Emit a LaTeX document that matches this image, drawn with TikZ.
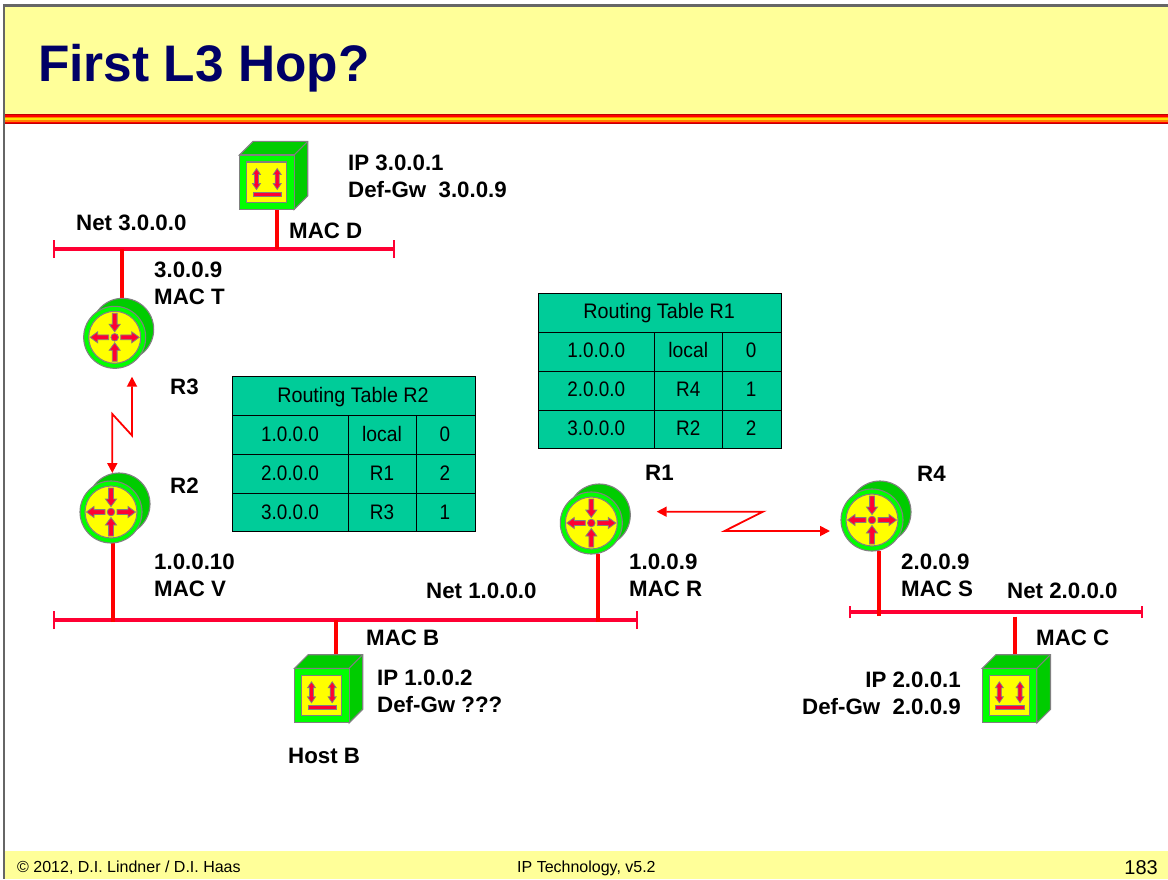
\documentclass[tikz,border=0pt]{standalone}
\usepackage{fontspec}
\usepackage{graphicx}
\setmainfont{Liberation Sans}
\usetikzlibrary{arrows.meta}
\definecolor{paleY}{HTML}{FFFF99}
\definecolor{navyT}{HTML}{000066}
\definecolor{netR}{HTML}{FF0033}
\definecolor{tealT}{HTML}{00CC99}
\definecolor{grn}{HTML}{00FF00}
\definecolor{dgrn}{HTML}{00CC00}
\definecolor{edgeG}{HTML}{808080}
\definecolor{frameG}{HTML}{666666}
\definecolor{icoR}{HTML}{FF0033}
\definecolor{yel}{HTML}{FFFF00}
\tikzset{
  lab/.style={font=\fontsize{22.3}{27}\selectfont\bfseries,align=left,anchor=north west,inner sep=0pt,text=black},
  net/.style={draw=netR,line width=3.2pt},
  stub/.style={draw=red,line width=4.5pt},
  netend/.style={draw=netR,line width=2.6pt},
  wan/.style={draw=red,line width=1.8pt,{Triangle[length=10pt,width=10pt]}-{Triangle[length=10pt,width=10pt]},line join=miter},
  ttext/.style={font=\fontsize{21}{21}\selectfont,inner sep=0pt,anchor=base},
  foot/.style={font=\fontsize{16}{18}\selectfont,inner sep=0pt,text=black},
  iconedge/.style={draw=edgeG,line width=1.1pt}
}
\newcommand{\nrw}[2][0.9]{\scalebox{#1}[1]{#2}}
\newcommand{\routerpic}[3]{%
  \begin{scope}[shift={(#2,#3)}]
    \fill[dgrn,iconedge] (8,-8) circle[radius=31];
    \fill[grn,iconedge] (0,0) circle[radius=31];
    \fill[yel,iconedge] (0,0) circle[radius=26];
    \foreach \a in {0,180}{
      \begin{scope}[rotate=\a]
        \fill[icoR,iconedge,line width=0.8pt] (6,-2.4) -- (17,-2.4) -- (17,-5.5) -- (24.5,0) -- (17,5.5) -- (17,2.4) -- (6,2.4) -- cycle;
      \end{scope}
    }
    \foreach \a in {90,270}{
      \begin{scope}[rotate=\a]
        \fill[icoR,iconedge,line width=0.8pt] (24,-2.4) -- (13,-2.4) -- (13,-5.5) -- (5.5,0) -- (13,5.5) -- (13,2.4) -- (24,2.4) -- cycle;
      \end{scope}
    }
    \fill[icoR,iconedge,line width=0.8pt] (0,0) circle[radius=3.8];
    \node (#1) at (0,0) [inner sep=0pt,minimum size=62pt,circle] {};
  \end{scope}}
\newcommand{\hostpic}[3]{%
  \begin{scope}[shift={(#2,#3)}]
    \fill[dgrn,iconedge] (0,0) -- (13.6,-13.6) -- (68.2,-13.6) -- (68.2,41) -- (54.6,54.6) -- (54.6,0) -- cycle;
    \draw[iconedge] (54.6,0) -- (68.2,-13.6);
    \fill[grn,iconedge] (0,0) rectangle (54.6,54.6);
    \fill[yel,iconedge] (7,7) rectangle (47.2,47.5);
    \foreach \x in {17,37.7}{
      \fill[icoR,iconedge,line width=0.7pt] (\x-2,19.5) -- (\x-2,28.5) -- (\x-4,28.5) -- (\x,34.5) -- (\x+4,28.5) -- (\x+2,28.5)
         -- (\x+2,19.5) -- (\x+4,19.5) -- (\x,13.5) -- (\x-4,19.5) -- (\x-2,19.5) -- cycle;
    }
    \fill[icoR,iconedge,line width=0.7pt] (13.4,37) rectangle (41.7,41);
    \node (#1) at (27.3,27.3) [inner sep=0pt,minimum size=54pt] {};
  \end{scope}}
\newcommand{\rtable}[7]{%
  \begin{scope}[shift={(#1,#2)}]
    \fill[tealT] (0,0) rectangle (243,155.5);
    \draw[black,line width=0.9pt] (0,0) rectangle (243,155.5);
    \draw[black,line width=0.9pt] (0,39) -- (243,39) (0,78) -- (243,78) (0,117) -- (243,117);
    \draw[black,line width=0.9pt] (116.3,39) -- (116.3,155.5) (184.3,39) -- (184.3,155.5);
    \node[ttext] at (121,25.9) {\nrw[0.94]{#3}};
    \node[ttext] at (58,64.9) {\nrw{1.0.0.0}};
    \node[ttext] at (150,64.9) {\nrw[0.92]{local}};
    \node[ttext] at (213,64.9) {\nrw{0}};
    \node[ttext] at (58,103.9) {\nrw{2.0.0.0}};
    \node[ttext] at (150,103.9) {\nrw{#4}};
    \node[ttext] at (213,103.9) {\nrw{#5}};
    \node[ttext] at (58,142.9) {\nrw{3.0.0.0}};
    \node[ttext] at (150,142.9) {\nrw{#6}};
    \node[ttext] at (213,142.9) {\nrw{#7}};
  \end{scope}}
\begin{document}
\begin{tikzpicture}[x=1pt,y=-1pt]
\useasboundingbox (0,0) rectangle (1168,879);
\fill[white] (0,0) rectangle (1168,879);
% frame + header
\fill[paleY] (5,7) rectangle (1168,114);
\fill[paleY] (5,851) rectangle (1168,879);
\fill[frameG] (3,4) rectangle (1168,7);
\fill[frameG] (3,4) rectangle (5,879);
\fill[red!75!black] (5,114) rectangle (1168,124);
\fill[red] (5,115) rectangle (1168,123);
\fill[orange] (5,116.5) rectangle (1168,121.5);
\fill[yellow!85!orange] (5,118) rectangle (1168,120);
\node[font=\fontsize{51.4}{53}\selectfont\bfseries,text=navyT,anchor=base west,inner sep=0pt] (title) at (38,81) {First L3 Hop?};
\node[foot,anchor=base west] (fa) at (17,872) {© 2012, D.I. Lindner / D.I. Haas};
\node[foot,anchor=base west] (fb) at (517,872) {IP Technology, v5.2};
\node[foot,anchor=base east,font=\fontsize{20}{20}\selectfont] (fc) at (1158,874.5) {183};
% LANs
\coordinate (n3a) at (54,249); \coordinate (n3b) at (394,249);
\coordinate (n1a) at (54,620); \coordinate (n1b) at (637,620);
\coordinate (n2a) at (850,612); \coordinate (n2b) at (1142,612);
\foreach \p/\q/\h in {n3a/n3b/9,n1a/n1b/9,n2a/n2b/6}{
  \draw[net] (\p) -- (\q);
  \draw[netend] ([yshift=-\h pt]\p) -- ([yshift=\h pt]\p);
  \draw[netend] ([yshift=-\h pt]\q) -- ([yshift=\h pt]\q);
}
% stubs
\coordinate (s3r) at (122,249);
\coordinate (s3h) at (277,249);
\coordinate (s1r2) at (113,622);
\coordinate (s1r1) at (598,622);
\coordinate (s1h) at (336,620);
\coordinate (s2r) at (879,616);
\coordinate (s2h) at (1015,616.5);
\draw[stub] (s3r) -- (122,298.5);
\draw[stub] (s3h) -- (277,209.5);
\draw[stub] (s1r2) -- (113,543);
\draw[stub] (s1r1) -- (598,554);
\draw[stub] (s1h) -- (336,654.7);
\draw[stub] (s2r) -- (879,551);
\draw[stub] (s2h) -- (1015,654.7);
% icons
\routerpic{R3}{114.7}{337.3}
\routerpic{R2}{111}{512}
\routerpic{R1}{591.3}{523}
\routerpic{R4}{872}{520}
\hostpic{hD}{239.5}{155}
\hostpic{hB}{294.5}{668.3}
\hostpic{hC}{982.3}{668.3}
% wan links
\coordinate (w1) at (112.3,473); \coordinate (w1a) at (112.3,414);
\coordinate (w1b) at (132,435.5); \coordinate (w1c) at (132,376.7);
\coordinate (w2) at (656.7,511.7); \coordinate (w2a) at (763,511.7);
\coordinate (w2b) at (724.5,531); \coordinate (w2c) at (830,531);
\draw[wan] (w1) -- (w1a) -- (w1b) -- (w1c);
\draw[wan] (w2) -- (w2a) -- (w2b) -- (w2c);
% tables
\rtable{232}{376.3}{Routing Table R2}{R1}{2}{R3}{1}
\rtable{538.2}{293}{Routing Table R1}{R4}{1}{R2}{2}
% labels
\node[lab] (l1) at (348,155) {IP 3.0.0.1\\Def-Gw~~3.0.0.9};
\node[lab] (l2) at (76,215) {Net 3.0.0.0};
\node[lab] (l3) at (289,223) {MAC D};
\node[lab] (l4) at (154,262) {3.0.0.9\\MAC T};
\node[lab] (l5) at (170,379) {R3};
\node[lab] (l6) at (170,478) {R2};
\node[lab] (l7) at (645,465) {R1};
\node[lab] (l8) at (917,466) {R4};
\node[lab] (l9) at (154,554) {1.0.0.10\\MAC V};
\node[lab] (l10) at (426,583) {Net 1.0.0.0};
\node[lab] (l11) at (629,554) {1.0.0.9\\MAC R};
\node[lab] (l12) at (901,554) {2.0.0.9\\MAC S};
\node[lab] (l13) at (1007,583) {Net 2.0.0.0};
\node[lab] (l14) at (1036,630) {MAC C};
\node[lab] (l15) at (366,630) {MAC B};
\node[lab] (l16) at (377,670) {IP 1.0.0.2\\Def-Gw ???};
\node[lab] (l17) at (288,748) {Host B};
\node[lab,align=right,anchor=north east] (l18) at (961,672) {IP 2.0.0.1\\Def-Gw~~2.0.0.9};
\end{tikzpicture}
\end{document}
